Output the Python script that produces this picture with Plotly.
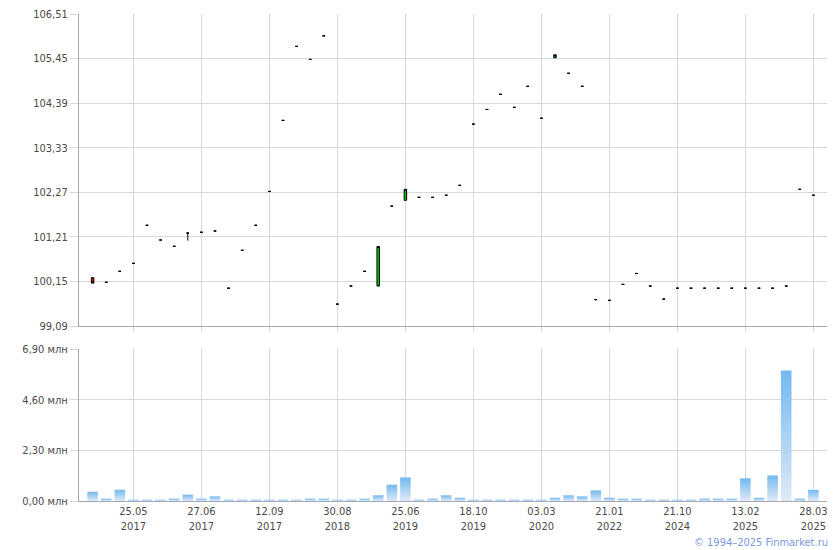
import plotly.graph_objects as go

# ---- data ----
opens = [100.24, 100.13, 100.39, 100.58, 101.485, 101.135, 100.985, 101.30, 101.32, 101.35,
         99.99, 100.89, 101.485, 102.29, 103.98, 105.74, 105.43, 105.99, 99.61, 100.04,
         100.39, 100.04, 101.94, 102.08, 102.15, 102.15, 102.20, 102.435, 103.89, 104.24,
         104.60, 104.29, 104.79, 104.03, 105.47, 105.10, 104.79, 99.72, 99.70, 100.08,
         100.34, 100.04, 99.73, 99.99, 99.99, 99.99, 99.99, 99.99, 99.99, 99.99,
         99.99, 100.04, 102.34, 102.20]
closes = [100.11, 100.13, 100.39, 100.58, 101.485, 101.135, 100.985, 101.30, 101.32, 101.35,
          99.99, 100.89, 101.485, 102.29, 103.98, 105.74, 105.43, 105.99, 99.61, 100.04,
          100.39, 100.98, 101.94, 102.34, 102.15, 102.15, 102.20, 102.435, 103.89, 104.24,
          104.60, 104.29, 104.79, 104.03, 105.54, 105.10, 104.79, 99.72, 99.70, 100.08,
          100.34, 100.04, 99.73, 99.99, 99.99, 99.99, 99.99, 99.99, 99.99, 99.99,
          99.99, 100.04, 102.34, 102.20]
highs = [max(o, c) for o, c in zip(opens, closes)]
lows = [min(o, c) for o, c in zip(opens, closes)]
lows[7] = 101.12
lows[37] = 99.69

volumes = [0.42, 0.11, 0.51, 0.06, 0.06, 0.06, 0.11, 0.29, 0.11, 0.21,
           0.06, 0.06, 0.06, 0.06, 0.06, 0.06, 0.11, 0.11, 0.06, 0.06,
           0.11, 0.26, 0.74, 1.07, 0.06, 0.11, 0.26, 0.15, 0.06, 0.06,
           0.06, 0.06, 0.06, 0.06, 0.15, 0.26, 0.21, 0.48, 0.15, 0.11,
           0.11, 0.06, 0.06, 0.06, 0.06, 0.11, 0.11, 0.11, 1.03, 0.15,
           1.16, 5.92, 0.11, 0.51]

tick_idx = [3, 8, 13, 18, 23, 28, 33, 38, 43, 48, 53]
tick_labels = ["25.05<br>2017", "27.06<br>2017", "12.09<br>2017", "30.08<br>2018",
               "25.06<br>2019", "18.10<br>2019", "03.03<br>2020", "21.01<br>2022",
               "21.10<br>2024", "13.02<br>2025", "28.03<br>2025"]

price_ticks = [99.09, 100.15, 101.21, 102.27, 103.33, 104.39, 105.45, 106.51]
vol_ticks = [0, 2.3, 4.6, 6.9]

x = list(range(len(opens)))

FONT = "DejaVu Sans Condensed, DejaVu Sans, sans-serif"
TXT = "#4a4a4a"
GRID = "#d4d8dc"
AXIS = "#a6a6b4"

fig = go.Figure()

fig.add_trace(go.Candlestick(
    x=x, open=opens, high=highs, low=lows, close=closes,
    increasing=dict(fillcolor="#00c800", line=dict(color="#000000", width=1)),
    decreasing=dict(fillcolor="#e00000", line=dict(color="#000000", width=1)),
    whiskerwidth=0, xaxis="x", yaxis="y", showlegend=False,
))

bw = 0.78
for i, v in zip(x, volumes):
    fig.add_trace(go.Scatter(
        x=[i - bw / 2, i - bw / 2, i + bw / 2, i + bw / 2, i - bw / 2],
        y=[0, v, v, 0, 0],
        mode="lines", fill="toself", line=dict(width=0),
        fillgradient=dict(type="vertical",
                          colorscale=[[0, "#dfeaf7"], [1, "#72b9f0"]]),
        xaxis="x2", yaxis="y2", showlegend=False, hoverinfo="skip",
    ))

# page body adds an 8px offset; plot area target (page px): x 79..827, y 14..501
OFF = 8
L, T, R, B = 79 - OFF, 14 - OFF, 840 - (827 - OFF), 550 - (501 - OFF)
total_h = 501 - 14
fig.update_layout(
    template="none",
    width=840, height=550,
    margin=dict(l=L, r=R, t=T, b=B, autoexpand=False),
    paper_bgcolor="white", plot_bgcolor="white",
    font=dict(family=FONT, size=11, color=TXT),
    boxgap=0.74,
    xaxis=dict(
        range=[-1, 54], tickvals=tick_idx, ticktext=[""] * len(tick_idx),
        showgrid=True, gridcolor=GRID, gridwidth=1,
        ticks="outside", ticklen=4, tickcolor=GRID,
        showline=True, linecolor=AXIS, zeroline=False, automargin=False,
        rangeslider=dict(visible=False), anchor="y",
    ),
    yaxis=dict(
        domain=[(501 - 326) / total_h, 1.0],
        range=[99.09, 106.51], tickvals=price_ticks,
        ticktext=[f"{v:.2f}".replace(".", ",") for v in price_ticks],
        showgrid=True, gridcolor=GRID, gridwidth=1,
        ticks="outside", ticklen=8, tickcolor=GRID, ticklabeloverflow="allow",
        showline=True, linecolor=AXIS, zeroline=False, anchor="x", automargin=False,
    ),
    xaxis2=dict(
        range=[-1, 54], tickvals=tick_idx, ticktext=tick_labels,
        showgrid=True, gridcolor=GRID, gridwidth=1, ticklabeloverflow="allow",
        ticks="", showline=True, linecolor=AXIS, zeroline=False,
        anchor="y2", tickangle=0, automargin=False,
    ),
    yaxis2=dict(
        domain=[0, (501 - 349) / total_h],
        range=[0, 6.9], tickvals=vol_ticks,
        ticktext=[f"{v:.2f}".replace(".", ",") + " млн" for v in vol_ticks],
        showgrid=True, gridcolor=GRID, gridwidth=1,
        ticks="outside", ticklen=8, tickcolor=GRID, ticklabeloverflow="allow",
        showline=True, linecolor=AXIS, zeroline=False, anchor="x2", automargin=False,
    ),
    annotations=[dict(
        text="© 1994–2025 Finmarket.ru", xref="paper", yref="paper",
        x=1.0, y=0, xanchor="right", yanchor="middle", yshift=-(542 - 501), xshift=3,
        showarrow=False, font=dict(family=FONT, size=11, color="#7a9ae0"),
    )],
)

fig.write_html("out.html")
